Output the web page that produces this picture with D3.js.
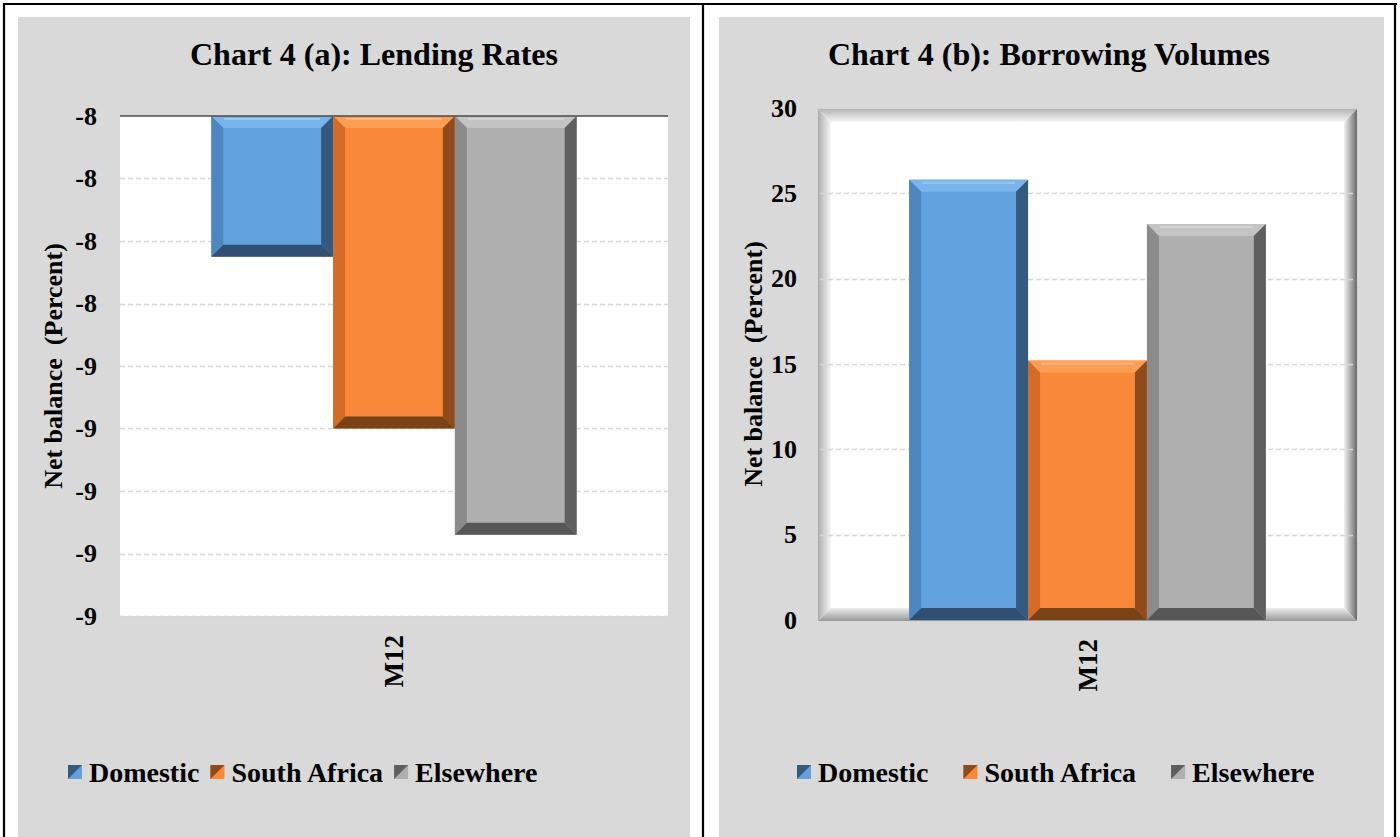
<!DOCTYPE html>
<html>
<head>
<meta charset="utf-8">
<script src="https://cdn.jsdelivr.net/npm/d3@7"></script>
<style>
  body { margin: 0; background: #ffffff; }
  svg { display: block; font-family: "Liberation Serif", "Times New Roman", serif; font-weight: bold; }
</style>
</head>
<body>
<div id="chart"></div>
<script>
// data
const seriesNames = ["Domestic", "South Africa", "Elsewhere"];
const categories = ["M12"];
const lendingValues = [-8.325, -8.6, -8.77];
const borrowingValues = [25.8, 15.2, 23.2];
const lendingTicks = [-8.1, -8.2, -8.3, -8.4, -8.5, -8.6, -8.7, -8.8, -8.9];
const borrowingTicks = [0, 5, 10, 15, 20, 25, 30];
const titles = ["Chart 4 (a): Lending Rates", "Chart 4 (b): Borrowing Volumes"];
const yTitle = "Net balance  (Percent)";

// bevel shades per series: base, top, left, right, bottom
const shades = [
  { base: "#62a2de", top: "#79b5ea", left: "#4d87bf", right: "#36597e", bottom: "#2f5073" },
  { base: "#f9883a", top: "#fb9d52", left: "#d46c25", right: "#8f4b1b", bottom: "#7b4117" },
  { base: "#afafaf", top: "#c4c4c4", left: "#8b8b8b", right: "#5f5f5f", bottom: "#575757" },
];

const width = 1400;
const height = 837;

const svg = d3
  .select("#chart")
  .append("svg")
  .attr("width", width)
  .attr("height", height);

const defs = svg.append("defs");
function grad(id, x2, y2, c1, c2) {
  const g = defs
    .append("linearGradient")
    .attr("id", id)
    .attr("x1", 0)
    .attr("y1", 0)
    .attr("x2", x2)
    .attr("y2", y2);
  g.append("stop").attr("offset", "0%").attr("stop-color", c1);
  g.append("stop").attr("offset", "100%").attr("stop-color", c2);
}
grad("frameTop", 0, 1, "#b4b4b4", "#f6f6f6");
grad("frameLeft", 1, 0, "#adadad", "#f6f6f6");
grad("frameRight", 1, 0, "#f2f2f2", "#6a6a6a");
grad("frameBottom", 0, 1, "#eeeeee", "#979797");

// bevel polygons for a rect
function bevel(x0, y0, x1, y1, b) {
  b = Math.min(b, (x1 - x0) / 2, (y1 - y0) / 2);
  return {
    top: [[x0, y0], [x1, y0], [x1 - b, y0 + b], [x0 + b, y0 + b]],
    bottom: [[x0, y1], [x1, y1], [x1 - b, y1 - b], [x0 + b, y1 - b]],
    left: [[x0, y0], [x0 + b, y0 + b], [x0 + b, y1 - b], [x0, y1]],
    right: [[x1, y0], [x1 - b, y0 + b], [x1 - b, y1 - b], [x1, y1]],
  };
}
const pts = (p) => p.map((d) => d.join(",")).join(" ");

// page frame lines
const frame = svg.append("g").attr("stroke", "#000").attr("stroke-width", 2.2);
frame.append("line").attr("x1", 3).attr("x2", 1397).attr("y1", 4).attr("y2", 4);
[4, 703, 1395].forEach((x) =>
  frame.append("line").attr("x1", x).attr("x2", x).attr("y1", 3).attr("y2", height)
);

const panels = [
  {
    bg: { x: 18, y: 17, w: 672, h: 820 },
    plot: { x: 120, y: 116, w: 548, h: 500 },
    titleX: 374,
    domain: [-8.9, -8.1],
    base: -8.1,
    values: lendingValues,
    ticks: lendingTicks,
    fmt: (d) => d.toFixed(0),
    framed: false,
    axisTitleX: 62,
    legendX: 68,
    legendGap: 11,
  },
  {
    bg: { x: 719, y: 17, w: 665, h: 820 },
    plot: { x: 820, y: 108, w: 535, h: 512 },
    titleX: 1049,
    domain: [0, 30],
    base: 0,
    values: borrowingValues,
    ticks: borrowingTicks,
    fmt: d3.format("d"),
    framed: true,
    axisTitleX: 762,
    legendX: 797,
    legendGap: 35,
  },
];

panels.forEach((p, i) => {
  const g = svg.append("g");
  const plot = p.plot;

  g.append("rect")
    .attr("x", p.bg.x)
    .attr("y", p.bg.y)
    .attr("width", p.bg.w)
    .attr("height", p.bg.h)
    .attr("fill", "#d9d9d9");

  const y = d3.scaleLinear().domain(p.domain).range([plot.y + plot.h, plot.y]);
  const x = d3.scaleBand().domain(categories).range([plot.x, plot.x + plot.w]).padding(0.2);
  const xs = d3.scaleBand().domain(seriesNames).range([0, x.bandwidth()]);

  // plot area
  let gridX0 = plot.x;
  let gridX1 = plot.x + plot.w;
  if (p.framed) {
    const fx0 = plot.x - 2, fx1 = plot.x + plot.w + 2, fy0 = plot.y + 1, fy1 = plot.y + plot.h + 1;
    g.append("rect")
      .attr("x", fx0)
      .attr("y", fy0)
      .attr("width", fx1 - fx0)
      .attr("height", fy1 - fy0)
      .attr("fill", "#ffffff")
      .attr("stroke", "#cfcfcf")
      .attr("stroke-dasharray", "2,2");
    const bv = bevel(fx0, fy0, fx1, fy1, 13);
    [["top", "frameTop"], ["left", "frameLeft"], ["right", "frameRight"], ["bottom", "frameBottom"]].forEach(([k, id]) =>
      g.append("polygon").attr("points", pts(bv[k])).attr("fill", `url(#${id})`)
    );
    g.append("rect")
      .attr("x", fx0 + 13)
      .attr("y", fy0 + 13)
      .attr("width", fx1 - fx0 - 26)
      .attr("height", fy1 - fy0 - 26)
      .attr("fill", "#ffffff");
    gridX0 = fx0 + 2;
    gridX1 = fx1 - 4;
  } else {
    g.append("rect")
      .attr("x", plot.x)
      .attr("y", plot.y)
      .attr("width", plot.w)
      .attr("height", plot.h)
      .attr("fill", "#ffffff");
  }

  // gridlines
  g.append("g")
    .selectAll("line")
    .data(p.ticks.filter((t) => t !== p.base && (!p.framed || t !== p.domain[1])))
    .enter()
    .append("line")
    .attr("x1", gridX0)
    .attr("x2", gridX1)
    .attr("y1", (d) => Math.round(y(d)) + 0.5)
    .attr("y2", (d) => Math.round(y(d)) + 0.5)
    .attr("stroke", "#d6d6d6")
    .attr("stroke-width", 1.3)
    .attr("stroke-dasharray", "5,3");

  // bars with bevel
  const bars = g.append("g");
  categories.forEach((c) => {
    seriesNames.forEach((s, k) => {
      const v = p.values[k];
      const x0 = x(c) + xs(s);
      const x1 = x0 + xs.bandwidth();
      const y0 = Math.min(y(v), y(p.base));
      const y1 = Math.max(y(v), y(p.base));
      const sh = shades[k];
      bars.append("rect")
        .attr("x", x0)
        .attr("y", y0)
        .attr("width", x1 - x0)
        .attr("height", y1 - y0)
        .attr("fill", sh.base);
      const bv = bevel(x0, y0, x1, y1, 12);
      ["top", "left", "right", "bottom"].forEach((side) =>
        bars.append("polygon").attr("points", pts(bv[side])).attr("fill", sh[side])
      );
      // soft highlight line under the top bevel
      bars.append("line")
        .attr("x1", x0 + 13)
        .attr("x2", x1 - 13)
        .attr("y1", y0 + 3)
        .attr("y2", y0 + 3)
        .attr("stroke", "#ffffff")
        .attr("stroke-opacity", 0.25)
        .attr("stroke-width", 2);
    });
  });

  // top axis line for lending chart (category axis crosses at max)
  if (!p.framed) {
    g.append("line")
      .attr("x1", plot.x)
      .attr("x2", plot.x + plot.w)
      .attr("y1", y(p.base))
      .attr("y2", y(p.base))
      .attr("stroke", "#4a4a4a")
      .attr("stroke-width", 1.3);
  }

  // y axis
  const yAxis = g
    .append("g")
    .attr("transform", `translate(${plot.x},0)`)
    .call(d3.axisLeft(y).tickValues(p.ticks).tickFormat(p.fmt).tickSize(0).tickPadding(23));
  yAxis.select(".domain").remove();
  yAxis
    .selectAll("text")
    .attr("font-family", "Liberation Serif, Times New Roman, serif")
    .attr("font-weight", "bold")
    .attr("font-size", 26)
    .attr("fill", "#000");

  // category label
  categories.forEach((c) => {
    const cx = x(c) + x.bandwidth() / 2;
    g.append("text")
      .attr("transform", `translate(${cx},${plot.y + plot.h + 19}) rotate(-90)`)
      .attr("text-anchor", "end")
      .attr("dominant-baseline", "central")
      .attr("font-size", 27)
      .text(c);
  });

  // axis title
  g.append("text")
    .attr("transform", `translate(${p.axisTitleX},${plot.y + plot.h / 2}) rotate(-90)`)
    .attr("text-anchor", "middle")
    .attr("font-size", 26)
    .style("white-space", "pre")
    .text(yTitle);

  // chart title
  g.append("text")
    .attr("x", p.titleX)
    .attr("y", 65)
    .attr("text-anchor", "middle")
    .attr("font-size", 32)
    .text(titles[i]);

  // legend
  const legend = g.append("g").attr("transform", `translate(${p.legendX},782)`);
  let lx = 0;
  seriesNames.forEach((s, k) => {
    const item = legend.append("g").attr("transform", `translate(${lx},0)`);
    const sh = shades[k];
    item.append("rect")
      .attr("x", 0)
      .attr("y", -17)
      .attr("width", 14)
      .attr("height", 14)
      .attr("fill", sh.base);
    item.append("polygon")
      .attr("points", pts([[0, -17], [14, -17], [0, -3]]))
      .attr("fill", sh.right);
    const t = item.append("text")
      .attr("x", 21)
      .attr("y", 0)
      .attr("font-size", 28)
      .text(s);
    lx += 21 + t.node().getComputedTextLength() + p.legendGap;
  });
});
</script>
</body>
</html>
